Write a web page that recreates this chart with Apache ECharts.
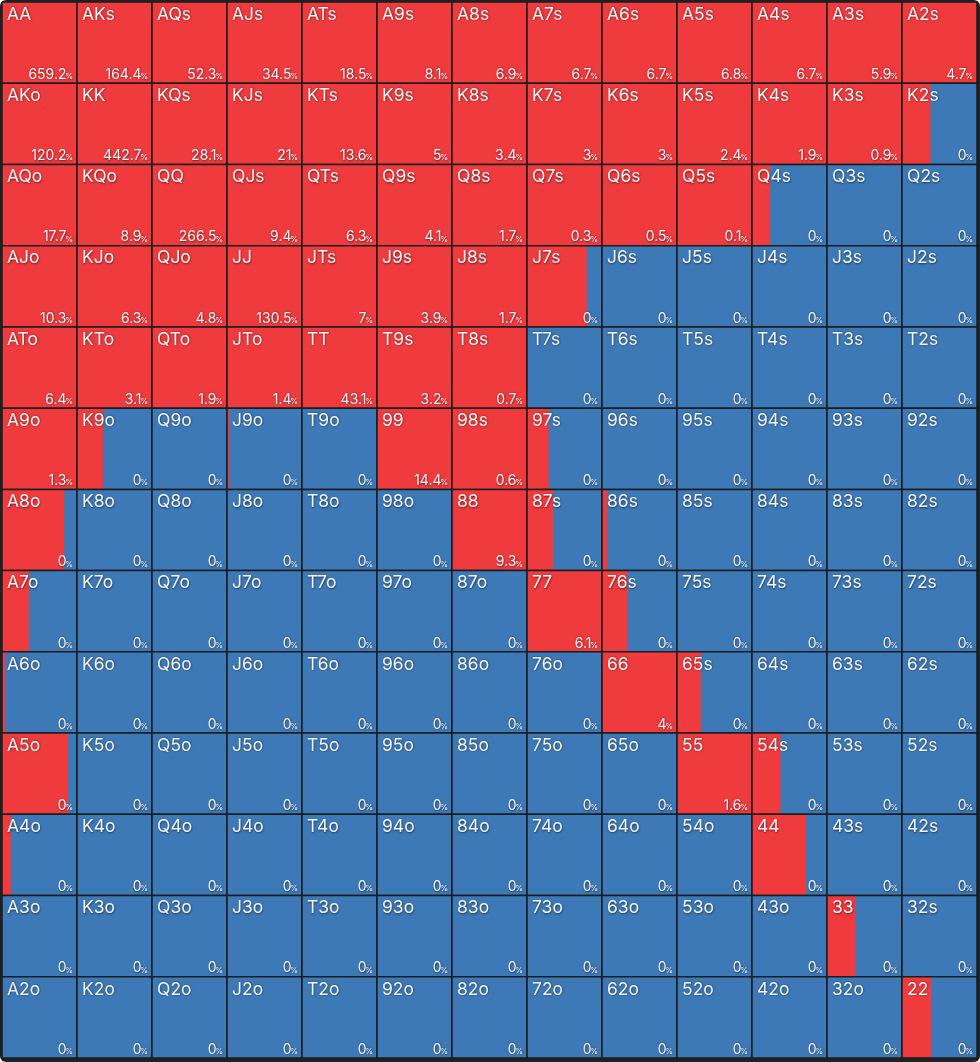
<!DOCTYPE html>
<html>
<head>
<meta charset="utf-8">
<script src="https://cdn.jsdelivr.net/npm/echarts@6/dist/echarts.min.js"></script>
<style>
  html, body { margin: 0; padding: 0; background: #ffffff; }
  #frame { position: absolute; left: 0; top: 0; width: 980px; height: 1062px; background: #202124; border-radius: 6px; overflow: hidden; }
  #chart { width: 980px; height: 1062px; }
</style>
</head>
<body>
<div id="frame"><div id="chart"></div></div>
<script>
// Ranks used for the 13x13 hand grid
const ranks = ['A','K','Q','J','T','9','8','7','6','5','4','3','2'];

// Percentage shown in each cell (row by row)
const pctRowA = ['659.2','164.4','52.3','34.5','18.5','8.1','6.9','6.7','6.7','6.8','6.7','5.9','4.7'];
const pctRowK = ['120.2','442.7','28.1','21','13.6','5','3.4','3','3','2.4','1.9','0.9','0'];
const pctRowQ = ['17.7','8.9','266.5','9.4','6.3','4.1','1.7','0.3','0.5','0.1','0','0','0'];
const pctRowJ = ['10.3','6.3','4.8','130.5','7','3.9','1.7','0','0','0','0','0','0'];
const pctRowT = ['6.4','3.1','1.9','1.4','43.1','3.2','0.7','0','0','0','0','0','0'];
const pctRow9 = ['1.3','0','0','0','0','14.4','0.6','0','0','0','0','0','0'];
const pctRow8 = ['0','0','0','0','0','0','9.3','0','0','0','0','0','0'];
const pctRow7 = ['0','0','0','0','0','0','0','6.1','0','0','0','0','0'];
const pctRow6 = ['0','0','0','0','0','0','0','0','4','0','0','0','0'];
const pctRow5 = ['0','0','0','0','0','0','0','0','0','1.6','0','0','0'];
const pctRow4 = ['0','0','0','0','0','0','0','0','0','0','0','0','0'];
const pctRow3 = ['0','0','0','0','0','0','0','0','0','0','0','0','0'];
const pctRow2 = ['0','0','0','0','0','0','0','0','0','0','0','0','0'];

// Red (raise) share of each cell, 0..1
const redRowA = [1,1,1,1,1,1,1,1,1,1,1,1,1];
const redRowK = [1,1,1,1,1,1,1,1,1,1,1,1,0.38];
const redRowQ = [1,1,1,1,1,1,1,1,1,1,0.24,0,0];
const redRowJ = [1,1,1,1,1,1,1,0.80,0,0,0,0,0];
const redRowT = [1,1,1,1,1,1,1,0,0,0,0,0,0];
const redRow9 = [1,0.35,0,0.03,0,1,1,0.29,0,0,0,0,0];
const redRow8 = [0.83,0,0,0,0,0,1,0.35,0.07,0,0,0,0];
const redRow7 = [0.36,0,0,0,0,0,0,1,0.34,0,0,0,0];
const redRow6 = [0.04,0,0,0,0,0,0,0,1,0.32,0,0,0];
const redRow5 = [0.88,0,0,0,0,0,0,0,0,1,0.38,0,0];
const redRow4 = [0.12,0,0,0,0,0,0,0,0,0,0.72,0,0];
const redRow3 = [0,0,0,0,0,0,0,0,0,0,0,0.38,0];
const redRow2 = [0,0,0,0,0,0,0,0,0,0,0,0,0.39];

const pctRows = [pctRowA,pctRowK,pctRowQ,pctRowJ,pctRowT,pctRow9,pctRow8,pctRow7,pctRow6,pctRow5,pctRow4,pctRow3,pctRow2];
const redRows = [redRowA,redRowK,redRowQ,redRowJ,redRowT,redRow9,redRow8,redRow7,redRow6,redRow5,redRow4,redRow3,redRow2];

function handLabel(r, c) {
  if (r === c) return ranks[r] + ranks[c];
  if (c > r) return ranks[r] + ranks[c] + 's';
  return ranks[c] + ranks[r] + 'o';
}

const data = [];
for (let r = 0; r < 13; r++) {
  for (let c = 0; c < 13; c++) {
    data.push([c, r, redRows[r][c], handLabel(r, c), pctRows[r][c]]);
  }
}

const RED = '#ef3a3e';
const BLUE = '#3d79b6';
const LINE = '#1b1c1e';
const TEXT = '#f4f4f4';
const FONT = 'Inter, "Noto Sans", sans-serif';

const chart = echarts.init(document.getElementById('chart'), null, { renderer: 'canvas' });
chart.setOption({
  backgroundColor: 'transparent',
  animation: false,
  grid: { left: 2, right: 3, top: 2, bottom: 4 },
  xAxis: { type: 'category', data: ranks, show: false, boundaryGap: true },
  yAxis: { type: 'category', data: ranks, show: false, inverse: true, boundaryGap: true },
  series: [{
    type: 'custom',
    data: data,
    encode: { x: 0, y: 1 },
    renderItem: function (params, api) {
      const item = data[params.dataIndex];
      const center = api.coord([api.value(0), api.value(1)]);
      const size = api.size([1, 1]);
      const w = size[0], h = size[1];
      const x0 = center[0] - w / 2, y0 = center[1] - h / 2;
      const frac = item[2];
      const shadow = { textShadowColor: 'rgba(0,0,0,0.55)', textShadowBlur: 2, textShadowOffsetX: 0.5, textShadowOffsetY: 0.5 };
      const children = [
        { type: 'rect', shape: { x: x0, y: y0, width: w, height: h }, style: { fill: BLUE } }
      ];
      if (frac > 0) {
        children.push({ type: 'rect', shape: { x: x0, y: y0, width: w * frac, height: h }, style: { fill: RED } });
      }
      children.push({ type: 'rect', shape: { x: x0, y: y0, width: w, height: h }, style: { fill: null, stroke: LINE, lineWidth: 1.5 } });
      children.push({
        type: 'text', x: x0 + 5, y: y0 + 3.5,
        style: Object.assign({ text: item[3], fill: TEXT, font: '17.5px ' + FONT, textAlign: 'left', textVerticalAlign: 'top' }, shadow)
      });
      children.push({
        type: 'text', x: x0 + w - 4, y: y0 + h - 2.5,
        style: Object.assign({ text: '%', fill: TEXT, font: '8px ' + FONT, textAlign: 'right', textVerticalAlign: 'bottom' }, shadow)
      });
      children.push({
        type: 'text', x: x0 + w - 10.5, y: y0 + h - 1.5,
        style: Object.assign({ text: item[4], fill: TEXT, font: '14px ' + FONT, textAlign: 'right', textVerticalAlign: 'bottom' }, shadow)
      });
      return { type: 'group', children: children };
    }
  }]
});
</script>
</body>
</html>
